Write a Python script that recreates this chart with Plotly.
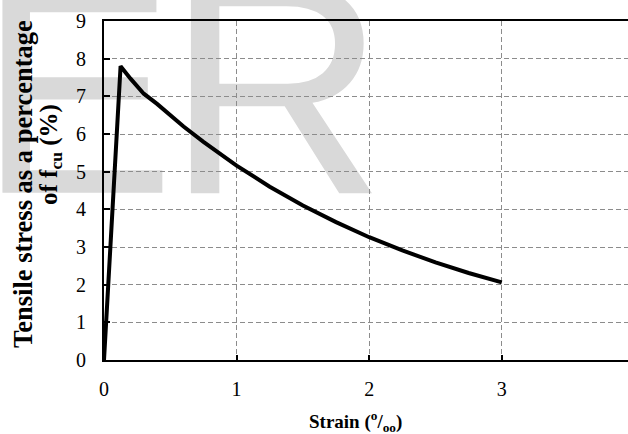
import plotly.graph_objects as go

# Tension-softening curve: tensile stress (as % of f_cu) against strain (per mille)
strain = [0.0, 0.125, 0.2, 0.3, 0.4, 0.5, 0.6, 0.75, 1.0, 1.25, 1.5, 1.75, 2.0, 2.25, 2.5, 2.75, 3.0]
stress_pct = [0.0, 7.8, 7.47, 7.07, 6.8, 6.5, 6.2, 5.79, 5.16, 4.6, 4.1, 3.66, 3.26, 2.91, 2.59, 2.31, 2.06]

x_ticks = [0, 1, 2, 3]
y_ticks = [0, 1, 2, 3, 4, 5, 6, 7, 8, 9]

W, H = 628, 434
L, R, T, B = 104, 0, 21, 74          # plot area spans x 104..628, y 21..360
SERIF = "Liberation Serif"
GRID = "#8c8c8c"
MARK_GREY = "#d9d9d9"


def px(p):
    """pixel column -> paper x"""
    return (p - L) / (W - L - R)


def py(q):
    """pixel row -> paper y"""
    return (H - B - q) / (H - T - B)


fig = go.Figure()

# background lettering, on its own hidden axes so the chart's grid sits on top
fig.add_trace(go.Scatter(
    x=[175], y=[119], text=["E"], mode="text", textposition="middle left",
    textfont=dict(family="Liberation Sans", size=295, color=MARK_GREY),
    cliponaxis=False, hoverinfo="skip", showlegend=False, xaxis="x", yaxis="y",
))
fig.add_trace(go.Scatter(
    x=[276], y=[117], text=["R"], mode="text", textposition="middle center",
    textfont=dict(family="Liberation Sans", size=305, color=MARK_GREY),
    cliponaxis=False, hoverinfo="skip", showlegend=False, xaxis="x", yaxis="y",
))

fig.add_trace(go.Scatter(
    x=strain, y=stress_pct, mode="lines",
    line=dict(color="black", width=4),
    showlegend=False, xaxis="x2", yaxis="y2",
))

fig.update_layout(
    width=W, height=H,
    margin=dict(l=L, r=R, t=T, b=B, pad=0),
    paper_bgcolor="white",
    plot_bgcolor="rgba(0,0,0,0)",
    xaxis=dict(domain=[0, 1], range=[L, W - R], visible=False, fixedrange=True),
    yaxis=dict(domain=[0, 1], range=[H - B, T], visible=False, fixedrange=True),
    xaxis2=dict(
        domain=[0, 1], anchor="y2", range=[0, (W - R - L) / 132.6],
        tickmode="array", tickvals=x_ticks, ticktext=[str(v) for v in x_ticks],
        ticks="inside", ticklen=5, tickwidth=2, tickcolor="black",
        showline=True, linecolor="black", linewidth=2, mirror=True,
        showgrid=True, gridcolor=GRID, gridwidth=1, griddash="5px,3px",
        zeroline=False,
        tickfont=dict(family=SERIF, size=20, color="black"),
        ticklabelstandoff=10,
    ),
    yaxis2=dict(
        domain=[0, 1], anchor="x2", range=[0, 9],
        tickmode="array", tickvals=y_ticks, ticktext=[str(v) for v in y_ticks],
        ticks="inside", ticklen=6, tickwidth=2, tickcolor="black",
        showline=True, linecolor="black", linewidth=2, mirror=False,
        showgrid=True, gridcolor=GRID, gridwidth=1, griddash="5px,3px",
        zeroline=False,
        tickfont=dict(family=SERIF, size=20, color="black"),
        ticklabelstandoff=12,
    ),
    annotations=[
        dict(text="<b>Strain (<sup>o</sup>/<sub>oo</sub>)</b>",
             xref="paper", yref="paper", x=px(355), y=py(421),
             xanchor="center", yanchor="middle", showarrow=False,
             font=dict(family=SERIF, size=19, color="black")),
        dict(text="<b>Tensile stress as a percentage</b>",
             xref="paper", yref="paper", x=px(23), y=py(184),
             xanchor="center", yanchor="middle", showarrow=False, textangle=-90,
             font=dict(family=SERIF, size=26.5, color="black")),
        dict(text="<b>of f<sub>cu</sub> (%)</b>",
             xref="paper", yref="paper", x=px(50), y=py(155),
             xanchor="center", yanchor="middle", showarrow=False, textangle=-90,
             font=dict(family=SERIF, size=25, color="black")),
    ],
)

fig.write_html("out.html")
